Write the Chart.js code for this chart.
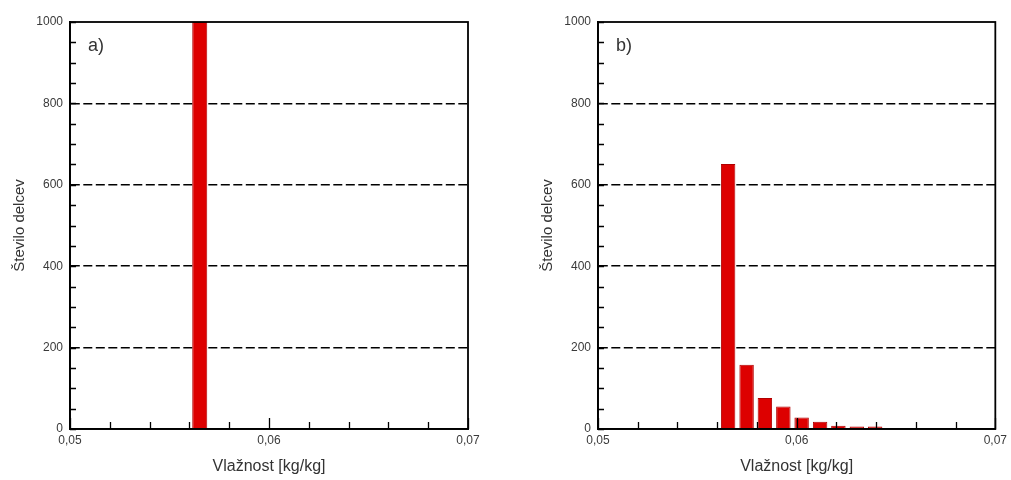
<!DOCTYPE html>
<html>
<head>
<meta charset="utf-8">
<script src="https://cdn.jsdelivr.net/npm/chart.js@4.4.1/dist/chart.umd.min.js"></script>
<style>
  html, body { margin: 0; padding: 0; background: #fff; }
  .panel { position: absolute; top: 0; height: 480px; }
  #panel-a { left: 0; width: 505px; }
  #panel-b { left: 505px; width: 506px; }
</style>
</head>
<body>
<div class="panel" id="panel-a"><canvas id="graph-a"></canvas></div>
<div class="panel" id="panel-b"><canvas id="graph-b"></canvas></div>
<script>
// data
var humidity_a = [0.05652];
var count_a = [1000];

var humidity_b = [0.05655, 0.05748, 0.0584, 0.05933, 0.06025, 0.06118, 0.0621, 0.06303, 0.06395];
var count_b = [651, 158, 76, 55, 28, 18, 8, 6, 6];

// tick labels
var x_label_values = [0.05, 0.06, 0.07];
var x_labels = ['0,05', '0,06', '0,07'];
var y_label_values = [0, 200, 400, 600, 800, 1000];

var x_title = 'Vlažnost [kg/kg]';
var y_title = 'Število delcev';

var font_family = '"Liberation Sans", Arial, sans-serif';

function isXLabel(v) {
  return x_label_values.findIndex(l => Math.abs(l - v) < 1e-9);
}

// frame, inner ticks and the a)/b) label
const frameTicks = {
  id: 'frameTicks',
  afterDatasetsDraw(chart, args, opts) {
    const ctx = chart.ctx;
    const area = chart.chartArea;
    const xs = chart.scales.x;
    const ys = chart.scales.y;
    ctx.save();
    ctx.strokeStyle = '#000';
    ctx.lineWidth = 1.3;
    ctx.beginPath();
    xs.ticks.forEach(function (t, i) {
      const px = Math.round(xs.getPixelForTick(i)) + 0.5;
      const len = isXLabel(t.value) >= 0 ? 11 : 7;
      ctx.moveTo(px, area.bottom);
      ctx.lineTo(px, area.bottom - len);
    });
    ys.ticks.forEach(function (t, i) {
      const py = Math.round(ys.getPixelForTick(i)) + 0.5;
      ctx.moveTo(area.left, py);
      ctx.lineTo(area.left + 6, py);
    });
    ctx.stroke();

    ctx.lineWidth = 1.8;
    ctx.strokeRect(area.left, area.top, area.right - area.left, area.bottom - area.top);

    ctx.fillStyle = '#333';
    ctx.font = '18px ' + font_family;
    ctx.textBaseline = 'alphabetic';
    ctx.fillText(opts.text, area.left + 18, area.top + 29);
    ctx.restore();
  }
};

function makeChart(canvas_id, xs, ys, panel_text, pad_left, pad_right, bar_pct) {
  const points = xs.map((x, i) => ({ x: x, y: ys[i] }));
  return new Chart(document.getElementById(canvas_id), {
    type: 'bar',
    data: {
      datasets: [{
        data: points,
        backgroundColor: '#dd0000',
        borderColor: '#b00000',
        borderWidth: 1,
        categoryPercentage: 1,
        barPercentage: bar_pct,
      }]
    },
    plugins: [frameTicks],
    options: {
      responsive: true,
      maintainAspectRatio: false,
      animation: false,
      layout: { padding: { left: pad_left, right: pad_right, top: 22, bottom: 0 } },
      plugins: {
        legend: { display: false },
        tooltip: { enabled: false },
        frameTicks: { text: panel_text },
      },
      scales: {
        x: {
          type: 'linear',
          offset: false,
          min: 0.05,
          max: 0.07,
          grid: { offset: false, drawOnChartArea: false, drawTicks: false },
          border: { display: true, color: '#000', width: 1.8 },
          afterFit: function (scale) { scale.height = 51; },
          ticks: {
            stepSize: 0.002,
            autoSkip: false,
            maxRotation: 0,
            padding: 4,
            color: '#3a3a3a',
            font: { family: font_family, size: 12 },
            callback: function (v) {
              const i = isXLabel(v);
              return i >= 0 ? x_labels[i] : '';
            }
          },
          title: {
            display: true,
            text: x_title,
            color: '#333',
            font: { family: font_family, size: 16 },
            padding: { top: 0, bottom: 4 }
          }
        },
        y: {
          min: 0,
          max: 1000,
          grid: {
            drawTicks: false,
            lineWidth: 1.5,
            color: function (c) {
              const v = c.tick ? c.tick.value : 0;
              return (v % 200 === 0 && v > 0 && v < 1000) ? '#000' : 'rgba(0,0,0,0)';
            }
          },
          border: { display: true, color: '#000', width: 1.8, dash: [9, 3.5] },
          afterFit: function (scale) { scale.width = 59; },
          ticks: {
            stepSize: 50,
            autoSkip: false,
            padding: 7,
            color: '#3a3a3a',
            font: { family: font_family, size: 12 },
            callback: function (v) {
              return y_label_values.indexOf(v) >= 0 ? String(v) : '';
            }
          },
          title: {
            display: true,
            text: y_title,
            color: '#333',
            font: { family: font_family, size: 15 },
            padding: { top: 0, bottom: 0 }
          }
        }
      }
    }
  });
}

const chart_a = makeChart('graph-a', humidity_a, count_a, 'a)', 11, 37, 0.378);
const chart_b = makeChart('graph-b', humidity_b, count_b, 'b)', 34, 15, 0.79);
</script>
</body>
</html>
